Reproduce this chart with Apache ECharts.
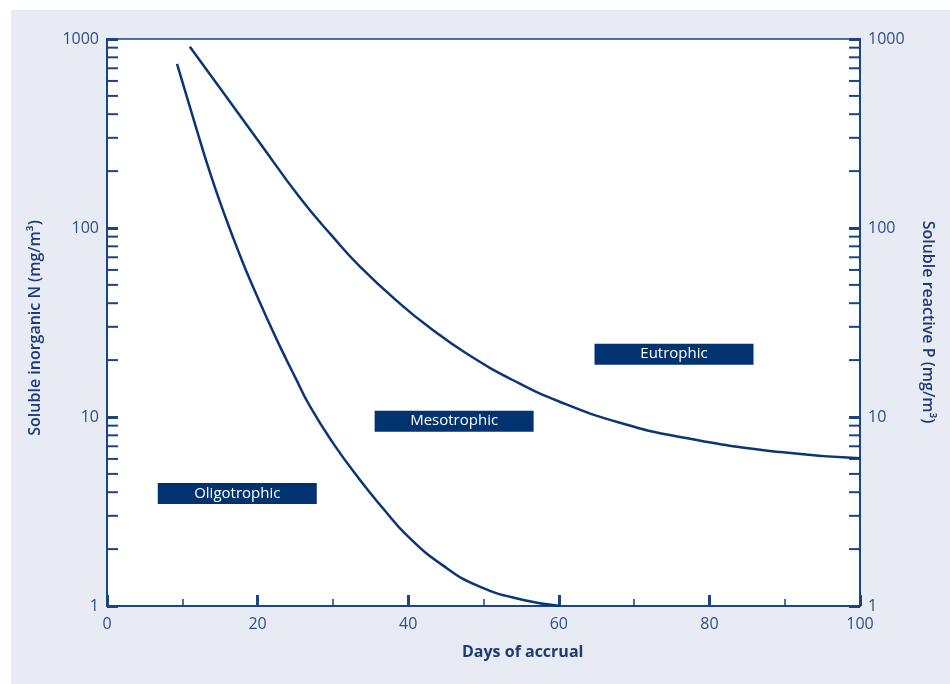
<!DOCTYPE html>
<html>
<head>
<meta charset="utf-8">
<script src="https://cdn.jsdelivr.net/npm/echarts@6/dist/echarts.min.js"></script>
<style>
html,body{margin:0;padding:0;background:#ffffff;width:950px;height:684px;overflow:hidden;}
#chart{position:absolute;left:11px;top:10px;width:939px;height:674px;background:#E8EBF3;}
</style>
</head>
<body>
<div id="chart"></div>
<script>
// ---- data ----
const xMin = 0, xMax = 100, xInterval = 20;
const yMin = 1, yMax = 1000;
// Oligotrophic / Mesotrophic boundary
const boundaryLowDays   = [9.3, 11.5, 13.7, 15.7, 17.7, 19.0, 21.0, 23.0, 25.0, 27.0, 30.0, 33.6, 36.7, 39.8, 44.6, 49.5, 55.3, 60.2];
const boundaryLowValues = [738, 376, 195, 115, 71, 53, 35, 23.5, 16.2, 11.3, 7.3, 4.64, 3.27, 2.37, 1.64, 1.265, 1.076, 1.0];
// Mesotrophic / Eutrophic boundary
const boundaryHighDays   = [11.0, 15.0, 20.3, 25.6, 30.0, 33.6, 38.9, 43.0, 47.8, 54.0, 60.2, 68.0, 76.1, 89.4, 100];
const boundaryHighValues = [910, 550, 282, 145, 89.7, 62.5, 39.8, 29.4, 21.6, 15.6, 12.0, 9.35, 7.83, 6.52, 6.05];
// Zone labels
const zoneNames  = ['Oligotrophic', 'Mesotrophic', 'Eutrophic'];
const zoneDays   = [17.3, 46.1, 75.3];
const zoneValues = [3.94, 9.5, 21.5];
// Minor log ticks
const minorTickValues = [2,3,4,5,6,7,8,9,20,30,40,50,60,70,80,90,200,300,400,500,600,700,800,900];

const xTitle = 'Days of accrual';
const yLeftTitle = 'Soluble inorganic N (mg/m³)';
const yRightTitle = 'Soluble reactive P (mg/m³)';

const navy = '#0B3675';
const axisCol = '#1A4483';
const labelCol = '#2B4F8C';
const font = '"Open Sans", "Noto Sans", sans-serif';

const chart = echarts.init(document.getElementById('chart'), null, {renderer: 'canvas'});

const logAxisBase = {
  type: 'log', logBase: 10, min: yMin, max: yMax,
  axisLine: {show: true, lineStyle: {color: axisCol, width: 2}},
  axisTick: {show: true, inside: true, length: 11, lineStyle: {color: axisCol, width: 3}},
  minorTick: {show: false},
  splitLine: {show: false},
  axisLabel: {color: labelCol, fontSize: 16, fontFamily: font, margin: 8, formatter: v => String(Math.round(v))}
};

const option = {
  animation: false,
  grid: {left: 96, top: 29, width: 753, height: 567, show: true, backgroundColor: '#ffffff', borderColor: axisCol, borderWidth: 1.5},
  xAxis: {
    type: 'value', min: xMin, max: xMax, interval: xInterval,
    axisLine: {show: true, lineStyle: {color: axisCol, width: 2}},
    axisTick: {show: true, inside: true, length: 11, lineStyle: {color: axisCol, width: 3}},
    minorTick: {show: true, splitNumber: 2, length: 7, lineStyle: {color: axisCol, width: 1.5}},
    splitLine: {show: false},
    axisLabel: {color: labelCol, fontSize: 16, fontFamily: font, margin: 10}
  },
  yAxis: [
    Object.assign({}, logAxisBase, {position: 'left'}),
    Object.assign({}, logAxisBase, {position: 'right'})
  ],
  graphic: [
    {type: 'text', left: 511 - 60, top: 634, style: {text: xTitle, fill: '#1B3A78', font: 'bold 16px ' + font}},
    {type: 'text', x: 24, y: 318, rotation: Math.PI / 2, style: {text: yLeftTitle, fill: '#1B3A78', font: '600 16px ' + font, align: 'center', verticalAlign: 'middle'}},
    {type: 'text', x: 917, y: 312, rotation: -Math.PI / 2, style: {text: yRightTitle, fill: '#1B3A78', font: '600 16px ' + font, align: 'center', verticalAlign: 'middle'}}
  ],
  series: [
    {
      type: 'line', name: 'low', xAxisIndex: 0, yAxisIndex: 0,
      data: boundaryLowDays.map((d, i) => [d, boundaryLowValues[i]]),
      smooth: 0.5, showSymbol: false,
      lineStyle: {color: navy, width: 2.5}, z: 3
    },
    {
      type: 'line', name: 'high', xAxisIndex: 0, yAxisIndex: 0,
      data: boundaryHighDays.map((d, i) => [d, boundaryHighValues[i]]),
      smooth: 0.5, showSymbol: false,
      lineStyle: {color: navy, width: 2.5}, z: 3
    },
    {
      type: 'scatter', xAxisIndex: 0, yAxisIndex: 0,
      data: zoneDays.map((d, i) => ({value: [d, zoneValues[i]], name: zoneNames[i]})),
      symbol: 'rect', symbolSize: [159, 21],
      itemStyle: {color: '#00336F', opacity: 1},
      label: {show: true, position: 'inside', formatter: p => p.name, color: '#ffffff', fontSize: 15, fontFamily: font},
      z: 4
    },
    {
      type: 'custom', xAxisIndex: 0, yAxisIndex: 0, silent: true, clip: false,
      data: minorTickValues.map(v => [xMin, v]),
      renderItem: function (params, api) {
        const v = api.value(1);
        const l = api.coord([xMin, v]);
        const r = api.coord([xMax, v]);
        const st = {stroke: axisCol, lineWidth: 2};
        return {type: 'group', children: [
          {type: 'line', shape: {x1: l[0], y1: l[1], x2: l[0] + 11, y2: l[1]}, style: st},
          {type: 'line', shape: {x1: r[0] - 11, y1: r[1], x2: r[0], y2: r[1]}, style: st}
        ]};
      },
      z: 2
    }
  ]
};
chart.setOption(option);
</script>
</body>
</html>
